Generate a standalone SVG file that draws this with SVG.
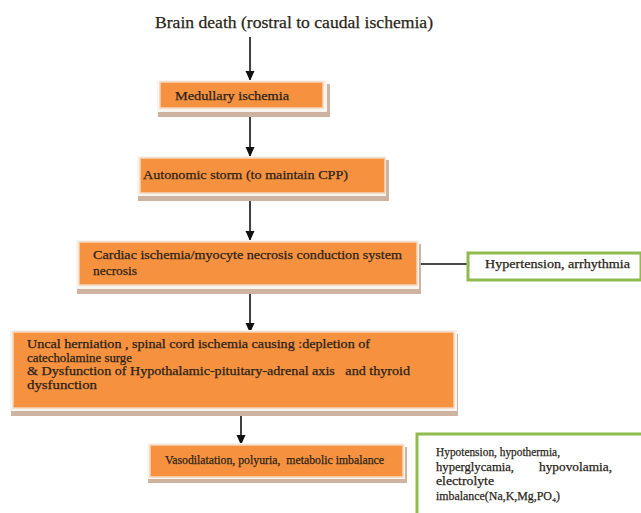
<svg xmlns="http://www.w3.org/2000/svg" width="641" height="513" viewBox="0 0 641 513">
<defs>
<marker id="ah" markerWidth="10" markerHeight="10" refX="9" refY="5" orient="auto" markerUnits="userSpaceOnUse">
<path d="M0,0.5 L10,5 L0,9.5 Z" fill="#111"/>
</marker>
<style>
.t{font-family:"Liberation Serif","DejaVu Serif",serif;fill:#2a1f18;stroke:#2a1f18;stroke-width:0.25}
.sh{fill:#cdb3a0}
.sw{fill:#f8f4f0}
.ob{fill:#f6923f;stroke:#f3d6bd;stroke-width:1.5}
.gb{fill:#ffffff;stroke:#8dbb4d;stroke-width:3}
.ln{stroke:#111;stroke-width:1.6;fill:none}
</style>
</defs>
<rect width="641" height="513" fill="#ffffff"/>

<g id="title">
<text class="t" x="155" y="28" font-size="17" textLength="278" lengthAdjust="spacingAndGlyphs">Brain death (rostral to caudal ischemia)</text>
</g>

<g id="connectors">
<line class="ln" x1="250" y1="37" x2="250" y2="80" marker-end="url(#ah)"/>
<line class="ln" x1="250" y1="117" x2="250" y2="156" marker-end="url(#ah)"/>
<line class="ln" x1="250" y1="200" x2="250" y2="240" marker-end="url(#ah)"/>
<line class="ln" x1="250" y1="293" x2="250" y2="332" marker-end="url(#ah)"/>
<line class="ln" x1="241" y1="413" x2="241" y2="444" marker-end="url(#ah)"/>
<line class="ln" x1="421" y1="264" x2="468" y2="264"/>
</g>

<g id="medullary">
<rect class="sh" x="158" y="84" width="172" height="33"/>
<rect class="sw" x="157" y="80" width="170" height="32"/>
<rect class="ob" x="160" y="82" width="163" height="26"/>
<text class="t" x="175" y="100" font-size="13" textLength="114" lengthAdjust="spacingAndGlyphs">Medullary ischemia</text>
</g>

<g id="autonomic">
<rect class="sh" x="138" y="160" width="251" height="41"/>
<rect class="sw" x="137" y="156" width="249" height="40"/>
<rect class="ob" x="140" y="158" width="245" height="35"/>
<text class="t" x="143" y="179" font-size="13" textLength="205" lengthAdjust="spacingAndGlyphs">Autonomic storm (to maintain CPP)</text>
</g>

<g id="cardiac">
<rect class="sh" x="77" y="244" width="344" height="50"/>
<rect class="sw" x="76" y="240" width="343" height="49"/>
<rect class="ob" x="79" y="242" width="338" height="43"/>
<text class="t" x="93" y="259" font-size="13" textLength="309" lengthAdjust="spacingAndGlyphs">Cardiac ischemia/myocyte necrosis conduction system</text>
<text class="t" x="93" y="275" font-size="13" textLength="44" lengthAdjust="spacingAndGlyphs">necrosis</text>
</g>

<g id="hypertension">
<rect class="gb" x="468" y="253" width="173" height="27"/>
<text class="t" x="485" y="268" font-size="12.5" textLength="145" lengthAdjust="spacingAndGlyphs">Hypertension, arrhythmia</text>
</g>

<g id="uncal">
<rect class="sh" x="11" y="334" width="447" height="82"/>
<rect class="sw" x="10" y="330" width="447" height="81"/>
<rect class="ob" x="13" y="332" width="441" height="76"/>
<text class="t" x="27" y="348" font-size="12" textLength="343" lengthAdjust="spacingAndGlyphs">Uncal herniation , spinal cord ischemia causing :depletion of</text>
<text class="t" x="27" y="361.7" font-size="12" textLength="105" lengthAdjust="spacingAndGlyphs">catecholamine surge</text>
<text class="t" x="27" y="375.4" font-size="12" textLength="383" lengthAdjust="spacingAndGlyphs" xml:space="preserve">&amp; Dysfunction of Hypothalamic-pituitary-adrenal axis   and thyroid</text>
<text class="t" x="27" y="389.1" font-size="12" textLength="70" lengthAdjust="spacingAndGlyphs">dysfunction</text>
</g>

<g id="vasodilatation">
<rect class="sh" x="148" y="447" width="259" height="36"/>
<rect class="sw" x="147" y="443" width="258" height="36"/>
<rect class="ob" x="150" y="445" width="253" height="32"/>
<text class="t" x="165" y="464" font-size="13" textLength="219" lengthAdjust="spacingAndGlyphs" xml:space="preserve">Vasodilatation, polyuria,  metabolic imbalance</text>
</g>

<g id="hypotension">
<rect class="gb" x="417" y="434" width="230" height="90"/>
<text class="t" x="436" y="456" font-size="12.5" textLength="124" lengthAdjust="spacingAndGlyphs">Hypotension, hypothermia,</text>
<text class="t" x="436" y="470.5" font-size="12.5" textLength="78" lengthAdjust="spacingAndGlyphs">hyperglycamia,</text>
<text class="t" x="539" y="470.5" font-size="12.5" textLength="73" lengthAdjust="spacingAndGlyphs">hypovolamia,</text>
<text class="t" x="436" y="485" font-size="12.5" textLength="58" lengthAdjust="spacingAndGlyphs">electrolyte</text>
<text class="t" x="436" y="499.5" font-size="12.5" textLength="124" lengthAdjust="spacingAndGlyphs">imbalance(Na,K,Mg,PO₄)</text>
</g>
</svg>
